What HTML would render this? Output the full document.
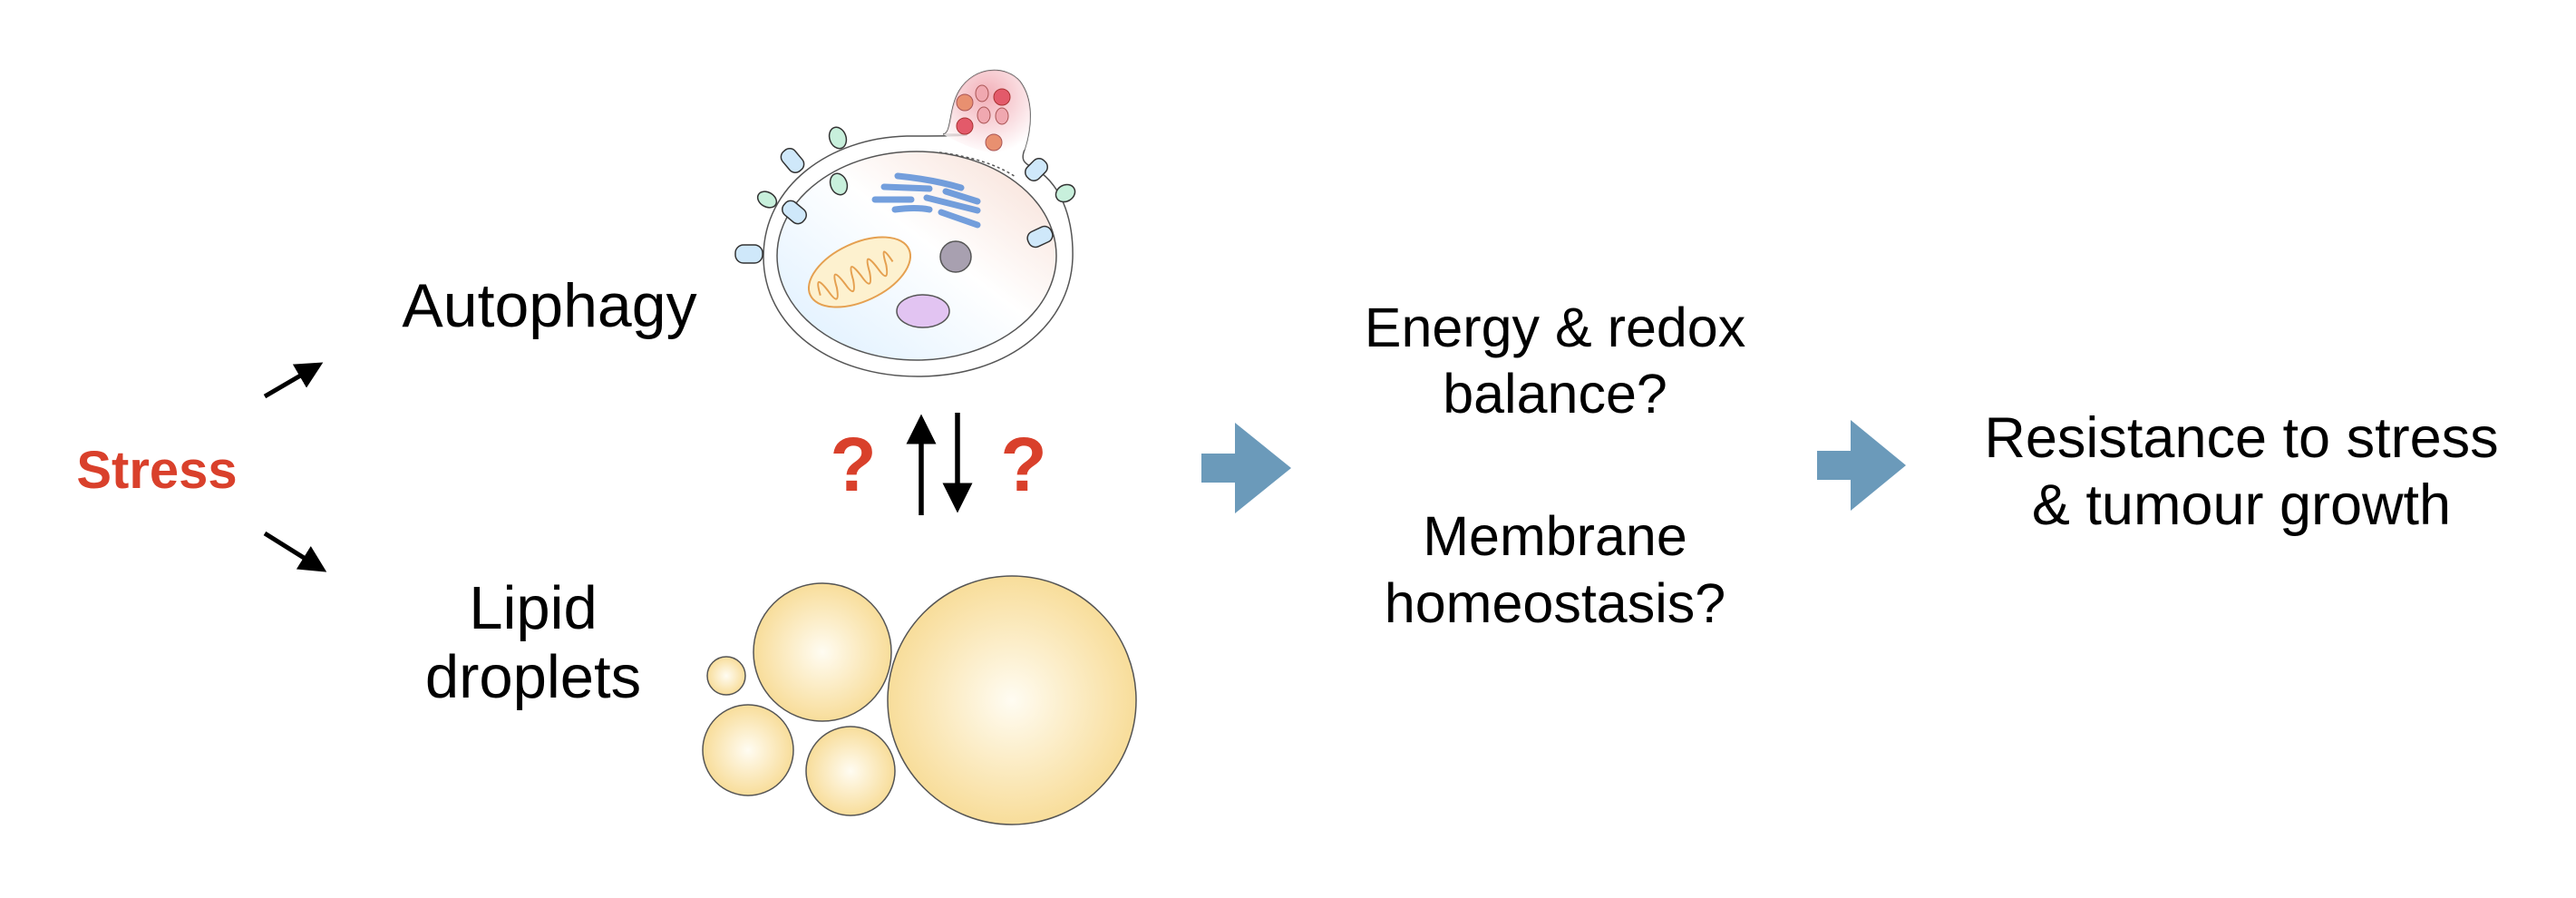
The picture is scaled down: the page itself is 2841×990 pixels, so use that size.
<!DOCTYPE html>
<html><head><meta charset="utf-8"><style>
html,body{margin:0;padding:0;background:#fff;}
body{width:2841px;height:990px;position:relative;overflow:hidden;font-family:"Liberation Sans",sans-serif;}
.t{position:absolute;color:#000;font-size:61px;line-height:1;white-space:nowrap;transform:translateX(-50%);text-align:center;}
</style></head><body>
<svg width="2841" height="990" style="position:absolute;left:0;top:0">
<defs>
<radialGradient id="dg" cx="50%" cy="50%" r="50%"><stop offset="0" stop-color="#fffcf2"/><stop offset="1" stop-color="#f8dd9a"/></radialGradient>
<linearGradient id="cg" x1="0" y1="1" x2="1" y2="0"><stop offset="0" stop-color="#dcefff"/><stop offset="0.55" stop-color="#ffffff"/><stop offset="1" stop-color="#f7ddd3"/></linearGradient>
<radialGradient id="bg" cx="50%" cy="30%" r="70%"><stop offset="0" stop-color="#ef9aa5"/><stop offset="1" stop-color="#ffffff"/></radialGradient>
<marker id="ah" markerWidth="6" markerHeight="6" refX="5" refY="3" orient="auto" markerUnits="strokeWidth"><path d="M0,0 L6,3 L0,6 z" fill="#000"/></marker>
</defs>
<line x1="292" y1="437" x2="352" y2="402" stroke="#000" stroke-width="5" marker-end="url(#ah)"/>
<line x1="292" y1="588" x2="356" y2="628" stroke="#000" stroke-width="5" marker-end="url(#ah)"/>
<line x1="1016" y1="568" x2="1016" y2="462" stroke="#000" stroke-width="5.5" marker-end="url(#ah)"/>
<line x1="1056" y1="455" x2="1056" y2="560" stroke="#000" stroke-width="5.5" marker-end="url(#ah)"/>
<!-- cell -->
<path d="M1000,150 C1080,150 1080,148 1040,148 C1050,148 1046,120 1058,100 C1075,72 1110,72 1125,90 C1140,110 1138,140 1130,165 C1126,175 1128,180 1140,185 C1175,205 1184,250 1183,285 C1180,360 1110,415 1012,415 C915,415 842,360 842,283 C842,205 915,152 1000,150 Z" fill="#fff" stroke="#555" stroke-width="1.5"/>
<path d="M1040,148 C1050,148 1046,120 1058,100 C1075,72 1110,72 1125,90 C1140,110 1138,140 1130,165 C1110,175 1080,170 1040,148 Z" fill="url(#bg)" opacity="0.8"/>
<ellipse cx="1011" cy="282" rx="154" ry="115" fill="url(#cg)" stroke="#555" stroke-width="1.5"/>
<g stroke-width="1">
<ellipse cx="1083" cy="103" rx="7" ry="9" fill="#f0a8b0" stroke="#a55"/>
<circle cx="1105" cy="107" r="9" fill="#e35a6a" stroke="#a33"/>
<circle cx="1064" cy="113" r="9" fill="#e89070" stroke="#a55"/>
<ellipse cx="1085" cy="127" rx="7" ry="9" fill="#f0a8b0" stroke="#a55"/>
<ellipse cx="1105" cy="128" rx="7" ry="9" fill="#f0a8b0" stroke="#a55"/>
<circle cx="1064" cy="139" r="9" fill="#e35a6a" stroke="#a33"/>
<circle cx="1096" cy="157" r="9" fill="#e89070" stroke="#a55"/>
</g>
<path d="M1036,168 Q1090,175 1120,195" fill="none" stroke="#555" stroke-width="1.5" stroke-dasharray="3,3"/>
<g fill="none" stroke="#5b8fd8" stroke-width="7" stroke-linecap="round" opacity="0.85">
<path d="M990,194 Q1030,198 1060,207"/>
<path d="M975,206 L1025,208"/><path d="M1043,211 L1078,222"/>
<path d="M965,220 L1005,220"/><path d="M1022,218 L1078,232"/>
<path d="M987,231 Q1010,228 1025,231"/><path d="M1038,234 L1078,248"/>
</g>
<g transform="rotate(-25 948 300)">
<ellipse cx="948" cy="300" rx="60" ry="32" fill="#fdf1cf" stroke="#e5a050" stroke-width="2"/>
<path d="M898,305 q4,-28 10,0 q4,22 10,0 q4,-28 10,0 q4,22 10,0 q4,-28 10,0 q4,22 10,0 q4,-28 10,0 q4,22 10,0 q4,-28 8,0" fill="none" stroke="#e5a050" stroke-width="2"/>
</g>
<circle cx="1054" cy="283" r="17" fill="#a8a0b0" stroke="#555" stroke-width="1.5"/>
<ellipse cx="1018" cy="343" rx="29" ry="18" fill="#e2c4f2" stroke="#555" stroke-width="1.5"/>
<g stroke="#333" stroke-width="1.5">
<rect x="811" y="270" width="30" height="20" rx="9" fill="#cfe8fa"/>
<rect x="862" y="225" width="28" height="18" rx="8" fill="#cfe8fa" transform="rotate(40 876 234)"/>
<rect x="860" y="168" width="28" height="18" rx="8" fill="#cfe8fa" transform="rotate(50 874 177)"/>
<ellipse cx="846" cy="220" rx="11" ry="8" fill="#c8f0dc" transform="rotate(30 846 220)"/>
<ellipse cx="924" cy="152" rx="9" ry="12" fill="#c8f0dc" transform="rotate(-20 924 152)"/>
<ellipse cx="925" cy="203" rx="9" ry="12" fill="#c8f0dc" transform="rotate(-20 925 203)"/>
<rect x="1130" y="178" width="26" height="18" rx="8" fill="#cfe8fa" transform="rotate(-45 1143 187)"/>
<ellipse cx="1175" cy="213" rx="11" ry="9" fill="#c8f0dc" transform="rotate(-30 1175 213)"/>
<rect x="1133" y="252" width="28" height="18" rx="8" fill="#cfe8fa" transform="rotate(-25 1147 261)"/>
</g>
<g stroke="#555" stroke-width="1.5" fill="url(#dg)">
<circle cx="1116" cy="772" r="137"/>
<circle cx="907" cy="719" r="76"/>
<circle cx="801" cy="745" r="21"/>
<circle cx="825" cy="827" r="50"/>
<circle cx="938" cy="850" r="49"/>
</g>
<path d="M1325,500 L1362,500 L1362,466 L1424,516 L1362,566 L1362,532 L1325,532 Z" fill="#6b9aba"/>
<path d="M2004,497 L2041,497 L2041,463 L2102,513 L2041,563 L2041,529 L2004,529 Z" fill="#6b9aba"/>
</svg>
<div class="t" style="left:173px;top:490px;color:#d9402b;font-weight:bold;font-size:58px;">Stress</div>
<div class="t" style="left:606px;top:303px;font-size:68px;">Autophagy</div>
<div class="t" style="left:588px;top:633px;font-size:67px;line-height:76px;">Lipid<br>droplets</div>
<div class="t" style="left:941px;top:470px;color:#d9402b;font-weight:bold;font-size:84px;">?</div>
<div class="t" style="left:1129px;top:470px;color:#d9402b;font-weight:bold;font-size:84px;">?</div>
<div class="t" style="left:1715px;top:325px;line-height:73px;">Energy &amp; redox<br>balance?</div>
<div class="t" style="left:1715px;top:554px;line-height:74px;">Membrane<br>homeostasis?</div>
<div class="t" style="left:2472px;top:446px;line-height:74px;font-size:63px;">Resistance to stress<br>&amp; tumour growth</div>
</body></html>
